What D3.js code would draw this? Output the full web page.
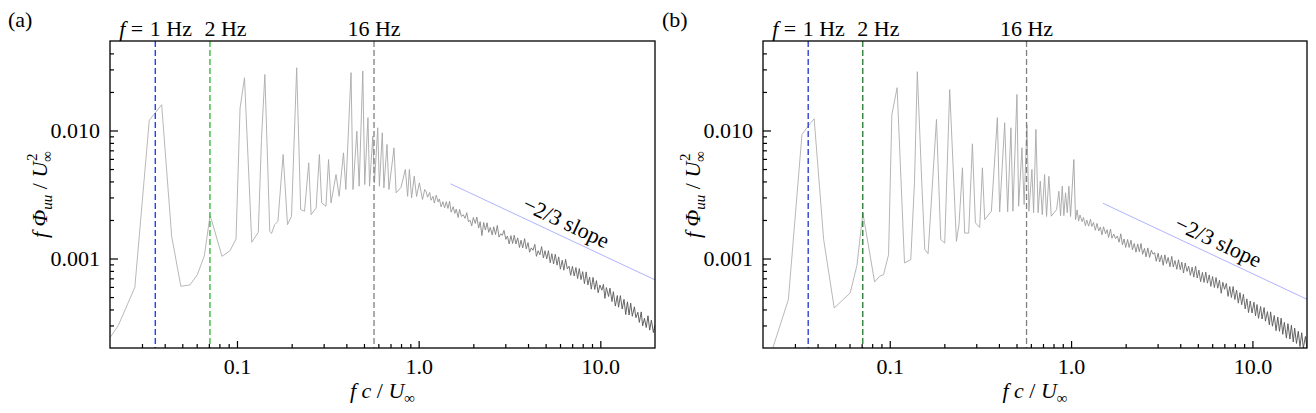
<!DOCTYPE html>
<html>
<head>
<meta charset="utf-8">
<script src="https://cdn.jsdelivr.net/npm/d3@7"></script>
<style>
  body { margin: 0; background: #fff; }
  svg { display: block; font-family: "Liberation Serif", "Times New Roman", serif; }
</style>
</head>
<body>
<svg id="chart" width="1316" height="413"></svg>
<script>
// ---- data ----
// low-frequency part: [f c / U_inf, f Phi_uu / U_inf^2]
const lowA = [
  [0.0200,0.000241],[0.0222,0.000299],[0.0274,0.000596],[0.0329,0.0120],[0.0385,0.0159],
  [0.0437,0.00149],[0.0491,0.000607],[0.0551,0.000622],[0.0605,0.000748],[0.0661,0.00105],
  [0.0711,0.00217],[0.0726,0.00198],[0.0827,0.00104],[0.0915,0.00115],[0.0988,0.00142],
  [0.104,0.0150],[0.110,0.0258],[0.1206,0.00134],[0.131,0.00160],[0.1364,0.0085],
  [0.1424,0.0274],[0.1515,0.00163],[0.155,0.00157],[0.1613,0.00184],[0.168,0.00195],
  [0.1795,0.00649],[0.1897,0.00184],[0.1996,0.00213],[0.2131,0.0309],[0.2242,0.00241],
  [0.2354,0.00234],[0.2483,0.00559],[0.2559,0.00220],[0.2727,0.00248],[0.2842,0.00649],
  [0.2925,0.00272],[0.3089,0.00256],[0.3192,0.00593],[0.3293,0.00272],[0.3509,0.00453],
  [0.3651,0.00306],[0.3857,0.00669],[0.3974,0.00346],[0.4245,0.0283],[0.4350,0.00346],
  [0.4568,0.00987],[0.4705,0.00367],[0.4926,0.0291],[0.5049,0.00378],[0.526,0.0126],
  [0.5367,0.00367],[0.5594,0.00902],[0.5714,0.00390],[0.5953,0.0105],[0.6081,0.00367],
  [0.6309,0.00959],[0.6436,0.00356],[0.6695,0.00778],[0.6863,0.00346],[0.7318,0.00732],
  [0.7518,0.00326],[0.80,0.00360],[0.8447,0.00496],[0.8699,0.00306],[0.8891,0.00496],
  [0.9147,0.00298],[0.9454,0.00439],[0.974,0.00305],[1.009,0.00390],[1.050,0.00289],
  [1.08,0.00346]
];
const lowB = [
  [0.0200,0.000150],[0.0227,0.000202],[0.0276,0.000477],[0.0328,0.00931],[0.0357,0.01094],
  [0.0383,0.01234],[0.0432,0.00141],[0.0494,0.000411],[0.0605,0.000538],[0.0659,0.000881],
  [0.0711,0.00227],[0.0825,0.000656],[0.0879,0.000726],[0.0924,0.000748],[0.0985,0.00107],
  [0.1027,0.0133],[0.1098,0.0216],[0.1206,0.000924],[0.1306,0.000980],[0.1369,0.00392],
  [0.1419,0.0288],[0.1502,0.00390],[0.156,0.00118],[0.1627,0.00109],[0.181,0.0122],
  [0.1911,0.00141],[0.201,0.00132],[0.2141,0.0209],[0.2332,0.00136],[0.2409,0.00184],
  [0.2517,0.00511],[0.2589,0.00158],[0.2725,0.00158],[0.2856,0.00787],[0.2967,0.00190],
  [0.3133,0.00175],[0.3243,0.00511],[0.3339,0.00201],[0.3635,0.00234],[0.3922,0.0126],
  [0.4038,0.00231],[0.4304,0.0115],[0.447,0.00232],[0.466,0.0105],[0.4779,0.00234],
  [0.5028,0.0191],[0.5138,0.00256],[0.5358,0.00733],[0.5509,0.00264],[0.5707,0.0111],
  [0.5853,0.00234],[0.6081,0.00496],[0.6213,0.00228],[0.6397,0.0102],[0.6578,0.00228],
  [0.6763,0.00402],[0.6937,0.00220],[0.7143,0.00453],[0.7326,0.00213],[0.7542,0.00439],
  [0.7776,0.00214],[0.806,0.00228],[0.8318,0.00241],[0.8563,0.00335],[0.875,0.00216],
  [0.8939,0.00367],[0.9124,0.00216],[0.9322,0.00326],[0.9525,0.00228],[0.9721,0.00367],
  [0.9931,0.00213],[1.0357,0.00593],[1.058,0.00201],[1.08,0.00240]
];

// high-frequency part: shared frequency list, values in units of 1e-4
const hfFreq = [
  1.10,1.12,1.15,1.17,1.20,1.22,1.25,1.28,1.30,1.33,
  1.36,1.39,1.42,1.45,1.48,1.51,1.55,1.58,1.61,1.65,
  1.68,1.72,1.76,1.80,1.84,1.88,1.92,1.96,2.00,2.05,
  2.09,2.14,2.18,2.23,2.28,2.33,2.38,2.43,2.48,2.54,
  2.59,2.65,2.71,2.77,2.83,2.89,2.95,3.02,3.08,3.15,
  3.22,3.29,3.36,3.43,3.51,3.59,3.66,3.74,3.83,3.91,
  4.00,4.08,4.17,4.26,4.36,4.45,4.55,4.65,4.75,4.86,
  4.96,5.07,5.18,5.30,5.41,5.53,5.65,5.78,5.90,6.03,
  6.17,6.30,6.44,6.58,6.73,6.87,7.02,7.18,7.34,7.50,
  7.66,7.83,8.00,8.18,8.36,8.54,8.73,8.92,9.12,9.32,
  9.52,9.73,9.95,10.2,10.4,10.6,10.8,11.1,11.3,11.6,
  11.8,12.1,12.4,12.6,12.9,13.2,13.5,13.8,14.1,14.4,
  14.7,15.0,15.4,15.7,16.1,16.4,16.8,17.1,17.5,17.9,
  18.3,18.7,19.1,19.6,20.0
];
const hfA = [
  33.3,30.1,32.8,28.5,30.6,27.1,31.3,27.6,29.2,25.3,
  27.8,24.9,27.8,24.6,28.0,23.0,25.4,22.5,24.3,20.9,
  24.2,21.3,22.0,20.6,22.8,19.4,19.9,18.0,20.9,18.8,
  21.1,17.3,19.4,15.1,19.1,16.7,19.0,16.0,17.5,15.3,
  17.7,15.4,18.1,14.7,15.6,15.2,16.6,14.1,15.0,13.0,
  15.1,13.1,15.2,13.0,14.5,12.2,13.9,12.1,14.3,11.9,
  13.3,11.2,12.1,11.6,12.9,10.4,11.5,10.7,12.4,10.1,
  11.5,9.93,11.5,9.25,10.9,9.06,10.8,8.88,10.3,8.26,
  9.70,8.10,9.85,8.30,8.70,7.39,8.68,7.30,8.50,6.97,
  8.34,6.84,7.90,6.36,7.86,6.22,7.16,5.76,7.12,5.73,
  6.72,5.40,6.20,5.66,6.28,4.88,5.93,5.05,5.87,4.61,
  5.51,4.25,5.14,4.16,5.13,4.03,4.80,3.65,4.59,3.62,
  4.48,3.54,4.19,3.45,3.80,3.17,3.83,2.98,3.41,2.89,
  3.57,2.76,3.30,2.64,3.04
];
const hfB = [
  19.6,21.9,19.4,20.9,18.0,20.0,17.9,20.3,17.8,19.1,
  16.6,18.8,16.4,17.6,15.3,17.7,15.6,16.8,14.6,17.0,
  14.4,15.5,14.3,15.0,13.4,15.6,12.8,14.2,12.2,14.1,
  12.2,13.9,11.7,13.1,11.2,13.0,11.3,13.1,10.8,12.0,
  10.3,12.1,10.2,11.6,10.8,11.1,9.51,11.0,9.39,10.6,
  8.85,10.7,9.14,10.2,8.63,10.4,8.58,9.65,8.24,9.78,
  8.18,9.37,7.70,9.23,7.93,8.70,7.39,8.56,7.15,8.72,
  7.04,8.11,6.59,7.79,6.50,7.83,6.42,7.45,6.06,7.24,
  5.93,7.10,5.86,6.76,5.35,6.52,5.75,6.39,5.06,6.04,
  4.96,6.04,4.78,5.67,4.48,5.41,4.35,5.25,4.04,4.84,
  3.78,4.66,3.75,4.56,3.57,4.37,3.41,4.22,3.37,4.14,
  3.24,3.85,3.03,3.83,2.96,3.59,2.73,3.49,2.70,3.42,
  2.56,3.17,2.39,3.10,2.35,3.01,2.23,2.86,2.17,2.70,
  2.05,2.63,2.00,2.46,1.98
];

// reference frequencies (Hz) and conversion to f c / U_inf
const markerHz = [1, 2, 16];
const markerLabels = ['1 Hz', '2 Hz', '16 Hz'];
const fcPerHz = 0.0355;

// -2/3 slope guide: start frequency and level for each panel
const slopeStartA = [1.5, 0.00383];
const slopeStartB = [1.5, 0.0027];
const slopeEndF = 20;

const xTicks = [0.1, 1, 10];
const xTickLabels = ['0.1', '1.0', '10.0'];
const yTicks = [0.001, 0.01];
const yTickLabels = ['0.001', '0.010'];

// ---- layout ----
const plotTop = 41, plotH = 307;
const xDomain = [0.02, 20], yDomain = [0.0002, 0.05];

const panels = [
  { id: 'a', tag: '(a)', tagX: 8, left: 110, width: 545, low: lowA, hf: hfA,
    markerColors: ['#1030ff', '#2db52d', '#808080'], slopeStart: slopeStartA },
  { id: 'b', tag: '(b)', tagX: 662, left: 763, width: 544, low: lowB, hf: hfB,
    markerColors: ['#2233d0', '#23782a', '#808080'], slopeStart: slopeStartB }
];

const svg = d3.select('#chart');
const defs = svg.append('defs');

function minorTicks(lo, hi) {
  const out = [];
  for (let e = -5; e <= 2; e++) {
    for (let k = 2; k <= 9; k++) {
      const v = +(k * Math.pow(10, e)).toPrecision(6);
      if (v > lo * 1.0001 && v < hi * 0.9999) out.push(v);
    }
  }
  return out;
}

panels.forEach(p => {
  const x = d3.scaleLog().domain(xDomain).range([0, p.width]);
  const y = d3.scaleLog().domain(yDomain).range([plotH, 0]);
  const g = svg.append('g').attr('transform', `translate(${p.left},${plotTop})`);

  defs.append('clipPath').attr('id', 'clip-' + p.id)
    .append('rect').attr('width', p.width).attr('height', plotH);

  // darker shading toward high frequency where the trace gets dense
  const grad = defs.append('linearGradient').attr('id', 'shade-' + p.id)
    .attr('gradientUnits', 'userSpaceOnUse')
    .attr('x1', 0).attr('x2', p.width).attr('y1', 0).attr('y2', 0);
  [[0.02, '#b2b2b2'], [0.9, '#a6a6a6'], [2, '#8a8a8a'], [6, '#666'], [20, '#4e4e4e']]
    .forEach(([f, c]) => grad.append('stop').attr('offset', x(f) / p.width).attr('stop-color', c));

  // spectrum
  const pts = p.low.concat(hfFreq.map((f, i) => [f, p.hf[i] * 1e-4]));
  const line = d3.line().x(d => x(d[0])).y(d => y(d[1]));
  g.append('path').datum(pts)
    .attr('clip-path', `url(#clip-${p.id})`)
    .attr('fill', 'none')
    .attr('stroke', `url(#shade-${p.id})`)
    .attr('stroke-width', 0.9)
    .attr('stroke-linejoin', 'round')
    .attr('d', line);

  // -2/3 slope guide
  const s0 = p.slopeStart;
  const s1 = [slopeEndF, s0[1] * Math.pow(slopeEndF / s0[0], -2 / 3)];
  g.append('line')
    .attr('x1', x(s0[0])).attr('y1', y(s0[1]))
    .attr('x2', x(s1[0])).attr('y2', y(s1[1]))
    .attr('stroke', '#9aa0ff').attr('stroke-width', 0.8);
  const ang = Math.atan2(y(s1[1]) - y(s0[1]), x(s1[0]) - x(s0[0])) * 180 / Math.PI;
  const lf = 6;
  const ly = s0[1] * Math.pow(lf / s0[0], -2 / 3);
  g.append('text')
    .attr('transform', `translate(${x(lf)},${y(ly)}) rotate(${ang})`)
    .attr('dy', -7)
    .attr('text-anchor', 'middle')
    .attr('font-size', 22)
    .text('\u22122/3 slope');

  // frequency markers
  markerHz.forEach((hz, i) => {
    const xm = x(hz * fcPerHz);
    g.append('line')
      .attr('x1', xm).attr('x2', xm).attr('y1', 0).attr('y2', plotH)
      .attr('stroke', p.markerColors[i]).attr('stroke-width', 1.3)
      .attr('stroke-dasharray', '6,3');
  });
  const topY = -5;
  const m0 = x(markerHz[0] * fcPerHz), m1 = x(markerHz[1] * fcPerHz), m2 = x(markerHz[2] * fcPerHz);
  const t0 = g.append('text').attr('x', m0 - 12).attr('y', topY).attr('text-anchor', 'end').attr('font-size', 22);
  t0.append('tspan').attr('font-style', 'italic').text('f');
  t0.append('tspan').text(' =');
  g.append('text').attr('x', m0 - 5.5).attr('y', topY).attr('font-size', 22).text(markerLabels[0]);
  g.append('text').attr('x', m1 - 5.5).attr('y', topY).attr('font-size', 22).text(markerLabels[1]);
  g.append('text').attr('x', m2).attr('y', topY).attr('text-anchor', 'middle').attr('font-size', 22).text(markerLabels[2]);

  // axes (ticks inward)
  const xMinor = minorTicks(xDomain[0], xDomain[1]);
  const yMinor = minorTicks(yDomain[0], yDomain[1]);
  const styleAxis = sel => {
    sel.select('.domain').remove();
    sel.attr('font-family', null).attr('font-size', 22);
    sel.selectAll('line').attr('stroke', '#000').attr('stroke-width', 1.2);
    sel.selectAll('text').attr('fill', '#000');
  };
  g.append('g').attr('transform', `translate(0,${plotH})`)
    .call(d3.axisBottom(x).tickValues(xMinor).tickSize(-4).tickFormat(''))
    .call(styleAxis);
  g.append('g').attr('transform', `translate(0,${plotH})`)
    .call(d3.axisBottom(x).tickValues(xTicks).tickSize(-7).tickPadding(10)
      .tickFormat((d, i) => xTickLabels[i]))
    .call(styleAxis);
  g.append('g')
    .call(d3.axisLeft(y).tickValues(yMinor).tickSize(-4).tickFormat(''))
    .call(styleAxis);
  g.append('g')
    .call(d3.axisLeft(y).tickValues(yTicks).tickSize(-8).tickPadding(10)
      .tickFormat((d, i) => yTickLabels[i]))
    .call(styleAxis);

  g.append('rect').attr('width', p.width).attr('height', plotH)
    .attr('fill', 'none').attr('stroke', '#000').attr('stroke-width', 1.3);

  // axis titles
  const xt = g.append('text').attr('x', p.width / 2).attr('y', 357)
    .attr('text-anchor', 'middle').attr('font-size', 22);
  xt.append('tspan').attr('font-style', 'italic').text('f c');
  xt.append('tspan').text(' / ');
  xt.append('tspan').attr('font-style', 'italic').text('U');
  xt.append('tspan').attr('font-size', 15).attr('dy', 5).text('\u221e');

  const yt = g.append('text')
    .attr('transform', `translate(-63,${plotH / 2}) rotate(-90)`)
    .attr('text-anchor', 'middle').attr('font-size', 22);
  yt.append('tspan').attr('font-style', 'italic').text('f \u03a6');
  yt.append('tspan').attr('font-style', 'italic').attr('font-size', 15).attr('dy', 5).text('uu');
  yt.append('tspan').attr('dy', -5).text(' / ');
  yt.append('tspan').attr('font-style', 'italic').text('U');
  yt.append('tspan').attr('font-size', 15).attr('dy', 5).text('\u221e');
  yt.append('tspan').attr('font-size', 15).attr('dx', -10).attr('dy', -15).text('2');

  svg.append('text').attr('x', p.tagX).attr('y', 27).attr('font-size', 22).text(p.tag);
});
</script>
</body>
</html>
